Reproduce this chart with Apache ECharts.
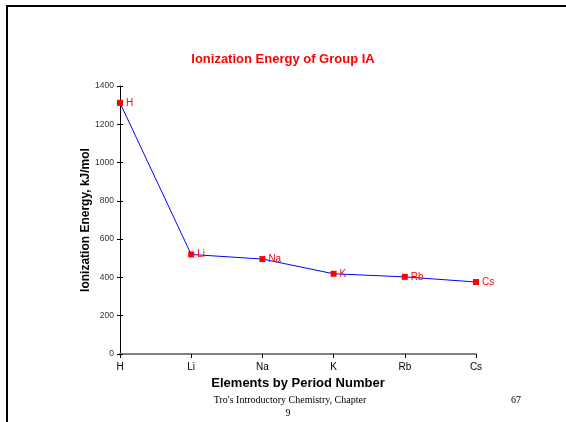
<!DOCTYPE html>
<html><head><meta charset="utf-8">
<script src="https://cdn.jsdelivr.net/npm/echarts@6/dist/echarts.min.js"></script>
<style>html,body{margin:0;padding:0;background:#fff}#c{width:566px;height:422px}</style>
</head><body><div id="c"></div>
<script>
const categories = ['H', 'Li', 'Na', 'K', 'Rb', 'Cs'];
const energies = [1312, 520, 496, 419, 403, 376];
const yTicks = { min: 0, max: 1400, interval: 200 };

const chart = echarts.init(document.getElementById('c'), null, { renderer: 'canvas' });
const font = 'Arial, "Liberation Sans", sans-serif';
chart.setOption({
  animation: false,
  title: {
    text: 'Ionization Energy of Group IA', left: 'center', top: 48,
    textStyle: { color: '#ff0000', fontSize: 13, fontWeight: 'bold', fontFamily: font }
  },
  grid: { left: 120, right: 90, top: 86, bottom: 68 },
  xAxis: {
    type: 'category', data: categories, boundaryGap: false,
    name: 'Elements by Period Number', nameLocation: 'middle', nameGap: 22,
    nameTextStyle: { fontSize: 13, fontWeight: 'bold', color: '#000', fontFamily: font },
    axisLine: { lineStyle: { color: '#808080', width: 2 } },
    axisTick: { length: 4, lineStyle: { color: '#000' } },
    axisLabel: { fontSize: 10, color: '#000', margin: 8, fontFamily: font },
    splitLine: { show: false }
  },
  yAxis: [{
    type: 'value', min: yTicks.min, max: yTicks.max, interval: yTicks.interval,
    name: 'Ionization Energy, kJ/mol', nameLocation: 'middle', nameGap: 28,
    nameMoveOverlap: false,
    nameTextStyle: { fontSize: 12, fontWeight: 'bold', color: '#000', fontFamily: font },
    axisLine: { show: true, lineStyle: { color: '#000', width: 1 } },
    axisTick: { show: true, length: 3, lineStyle: { color: '#000' } },
    axisLabel: { fontSize: 8.5, color: '#333', margin: 6, fontFamily: font, formatter: v => String(v) },
    splitLine: { show: false }
  }, {
    type: 'value', position: 'left', min: yTicks.min, max: yTicks.max, interval: yTicks.interval,
    axisLine: { show: false },
    axisTick: { show: true, inside: true, length: 3, lineStyle: { color: '#000' } },
    axisLabel: { show: false }, splitLine: { show: false }
  }],
  series: [{
    type: 'line', data: energies,
    symbol: 'rect', symbolSize: 6,
    itemStyle: { color: '#ff0000' },
    lineStyle: { color: '#0000ff', width: 1 },
    label: {
      show: true, position: 'right', distance: 3,
      formatter: p => categories[p.dataIndex],
      color: '#ff0000', fontSize: 10, fontFamily: font
    }
  }],
  graphic: [
    { type: 'line', shape: { x1: 7, y1: 6, x2: 7, y2: 422 }, style: { stroke: '#000', lineWidth: 2 } },
    { type: 'line', shape: { x1: 6, y1: 6, x2: 566, y2: 6 }, style: { stroke: '#000', lineWidth: 2 } },
    { type: 'text', x: 290, y: 400, style: { text: "Tro's Introductory Chemistry, Chapter", font: '10px "Liberation Serif", "Times New Roman", serif', fill: '#000', textAlign: 'center', textVerticalAlign: 'middle' } },
    { type: 'text', x: 288, y: 413, style: { text: '9', font: '10px "Liberation Serif", "Times New Roman", serif', fill: '#000', textAlign: 'center', textVerticalAlign: 'middle' } },
    { type: 'text', x: 516, y: 400, style: { text: '67', font: '10px "Liberation Serif", "Times New Roman", serif', fill: '#000', textAlign: 'center', textVerticalAlign: 'middle' } }
  ]
});
</script></body></html>
